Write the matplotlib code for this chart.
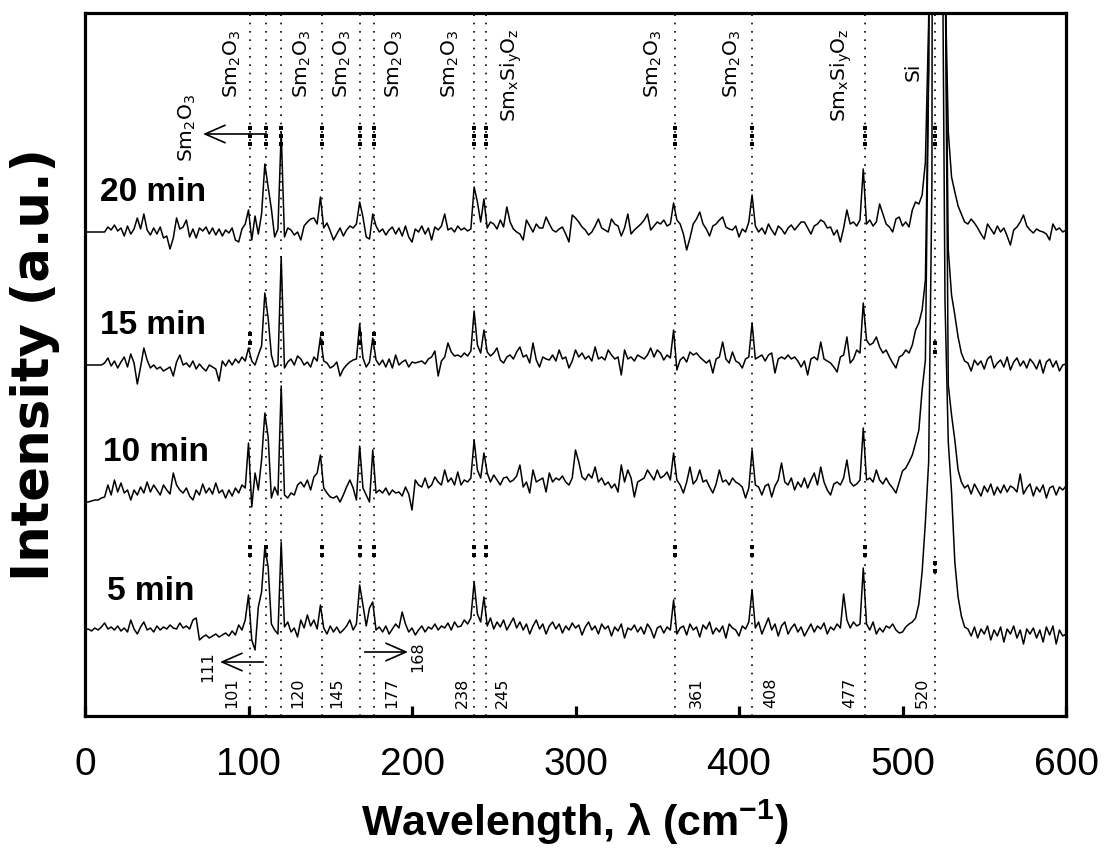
import numpy as np
import matplotlib
matplotlib.use("Agg")
import matplotlib.pyplot as plt

# ---------------- data ----------------
# Raman shift sampling grid (cm^-1)
wavenumber = np.arange(0, 601, 2)

# intensity above each trace's own baseline (a.u.)
intensity_20min = [
    0, 0, 0, 0, 0, 0, 0, 5, 2, 7,
    1, 4, -4, 6, -2, 3, 14, 3, 18, 2,
    -3, 4, -2, 5, -6, -4, -17, -6, 14, 3,
    5, 12, -5, 3, -6, 4, 1, 5, -2, 4,
    -3, 3, -4, 2, -1, 4, -8, -10, 3, 8,
    22, -8, 16, -2, 18, 68, 45, 23, -5, 3,
    100, -5, 4, 2, -3, 0, -8, 6, 10, 13,
    14, 8, 35, 4, 9, 1, -8, -2, 4, -4,
    2, 6, 4, 8, 30, 15, -5, -7, 18, 6,
    0, 3, -3, 2, 5, -2, 4, -4, 6, -5,
    -10, 3, 0, 6, -2, 4, -8, 5, 2, 6,
    18, 2, 4, 0, 6, 2, 4, 1, 3, 45,
    30, 10, 33, 4, 10, 8, 3, 12, 5, 25,
    10, 3, 0, -2, -8, 12, 6, 0, 8, 4,
    4, 15, 8, 2, 0, 3, 5, -2, -10, 17,
    14, 10, 5, 2, -3, 0, 6, 13, 4, 2,
    0, 13, 8, 6, -4, 4, 18, -2, 2, 5,
    8, 12, 18, 2, 6, 10, 8, 12, 6, 8,
    29, 12, 8, -2, -18, -6, 8, 13, 20, 8,
    3, -4, 6, 8, 12, 15, 5, 3, 2, 6,
    -5, 3, 0, 10, 37, 6, 0, 4, -2, 8,
    2, -3, 6, 3, -2, 4, 7, 2, 6, 10,
    10, 4, -2, 6, 8, 12, 10, 4, 5, -3,
    2, -10, 4, 22, 8, 10, 6, 12, 63, 8,
    12, 6, 10, 28, 18, 8, 5, 0, 13, 15,
    6, 10, 5, 22, 30, 28, 37, 70, 210, 800,
    2500, 2500, 800, 260, 100, 55, 40, 26, 18, 10,
    8, 13, 9, 4, -2, -7, 8, 3, -2, 6,
    0, 4, -4, -13, 2, 5, 10, 17, 6, 2,
    -1, 3, 1, 0, -2, -8, 8, 2, 4, 0,
    2]

intensity_15min = [
    0, 0, 0, 0, 0, 0, 2, 7, -1, 4,
    -3, 3, 8, -2, 11, 2, -19, -2, 17, 5,
    -3, 0, -4, -2, -6, -4, -2, -11, 3, 10,
    0, 2, -2, 4, -4, 1, -3, -6, 0, -2,
    -4, -16, 4, -1, 5, 0, 6, 2, 8, 4,
    17, 4, 0, 10, 19, 72, 47, 10, -2, 0,
    108, -3, 3, 6, 0, 9, 6, 0, 3, -2,
    8, 4, 28, 4, 2, -3, -1, 3, -11, -4,
    0, 3, 5, 6, 41, 7, -2, 3, 27, 5,
    0, 5, -2, 6, -3, 10, 0, 3, 5, -2,
    3, 2, 3, 4, 1, 6, 8, 14, -11, 4,
    8, 22, 13, 9, 10, 8, 12, 9, 14, 54,
    20, 12, 35, 13, 9, 12, 17, 5, 2, 8,
    10, 6, 13, 18, 8, 10, 2, 22, 5, -2,
    8, 6, 5, 10, 4, 15, 6, 8, -3, 4,
    15, 8, 12, 6, 9, 4, 18, 6, 8, 5,
    15, 10, 6, 8, -10, 15, 6, 8, 4, 10,
    8, 6, 10, 17, 8, 15, 12, 5, 10, 7,
    35, -5, 5, 8, 3, 13, 10, 12, 8, 5,
    2, 5, -8, 6, 8, 23, 6, 2, 13, 4,
    2, -3, 6, 8, 42, 6, 8, 10, 4, 10,
    12, -8, 6, 8, 6, 10, 6, 8, 4, -2,
    4, -10, 6, 8, 5, 23, 6, 4, 2, -2,
    -7, 8, 10, 28, 2, 6, 15, 12, 62, 25,
    20, 22, 28, 18, 12, 15, 8, 2, -3, 8,
    10, 15, 12, 20, 35, 42, 55, 85, 300, 1200,
    3000, 3000, 1000, 420, 115, 70, 50, 28, 12, 4,
    2, -6, 5, 0, 4, -4, 6, 9, -3, 2,
    5, -2, 8, -5, 3, 7, -1, 4, -3, 6,
    2, -4, 5, -8, 3, 6, -2, 4, -6, 0,
    1]

intensity_10min = [
    -12, -12, -11, -10, -10, -8, -7, 5, -5, 10,
    -2, 7, -3, 0, -10, 0, -5, 3, -3, 8,
    -2, 5, 0, -5, 5, 0, -4, 17, 5, 0,
    -3, 2, -6, -10, 0, -5, 6, -3, 2, -4,
    7, -3, 0, -8, 0, -6, 2, -3, 5, 2,
    47, -17, 17, 0, 30, 77, 53, -8, 3, -5,
    104, -5, -8, -3, -5, 5, 8, 3, 10, 0,
    13, 17, 35, 2, -3, -7, -8, -6, -12, -5,
    3, 10, 2, -10, 44, 2, -5, -12, 40, -3,
    0, -3, 2, -5, 0, -3, -2, -6, 3, -4,
    -20, 10, 5, 3, 12, 2, 5, 13, 8, 5,
    20, 8, 12, 5, 18, 5, 10, 8, 12, 50,
    20, 12, 37, 17, 8, 15, 10, 5, 12, 13,
    8, 10, 14, 25, 3, 8, -3, 20, 8, 10,
    12, -2, 17, 8, 12, 10, 14, 8, 5, 12,
    40, 28, 13, 10, 16, 12, 23, 8, 12, 5,
    8, 2, 6, -2, 25, 8, 20, 12, -7, 8,
    10, 12, 20, 15, 10, 20, 12, 14, 18, 10,
    37, 10, 5, -3, 8, 23, 6, 10, 20, 8,
    10, 3, -3, 6, 20, 8, 10, 5, 12, 8,
    6, 3, -8, 2, 40, 5, 3, -5, 4, 6,
    -7, 4, 10, 27, 8, 5, 12, 0, 8, 3,
    12, 2, 10, 17, 5, 23, 8, 0, -5, 6,
    8, 5, 12, 30, 8, 4, 6, 10, 62, 10,
    12, 8, 20, 10, 6, 12, 6, 2, -3, 8,
    19, 22, 28, 35, 47, 60, 100, 130, 420, 1500,
    3000, 3000, 1200, 560, 105, 75, 50, 20, 8, 2,
    5, -4, 6, 0, -6, 4, -2, 6, -5, 3,
    -3, 5, -2, 4, 2, -2, 16, -4, 2, 6,
    -6, 3, -2, 5, -8, 2, 4, -5, 3, 0,
    4]

intensity_5min = [
    2, 3, 1, 4, 2, 5, 9, 3, 5, 2,
    6, 1, 4, 0, 12, 3, -2, 5, 10, 2,
    4, 0, 6, 2, 5, 3, 7, 4, 3, 9,
    4, 6, 3, 12, 14, -8, -5, -3, -6, -4,
    -2, -5, -3, -1, -4, 1, -3, 7, 2, 12,
    37, -8, -18, 25, 40, 85, 65, 8, 2, -2,
    90, 5, 10, 0, 4, -5, 12, 4, 17, 6,
    12, 3, 27, 4, -2, 6, 0, 5, -1, 2,
    6, 12, 2, 8, 47, 27, 6, 24, 30, 2,
    5, 0, 6, -2, 3, 8, 4, 20, 8, 0,
    4, -3, 2, 6, 0, 5, 3, 8, 2, 6,
    4, 9, 2, 10, 5, 6, 12, 8, 14, 50,
    18, 10, 35, 6, 14, 3, 10, 5, 12, 2,
    8, 14, 4, 10, 2, 8, -2, 6, 12, 3,
    8, -2, 6, 10, 3, 8, -1, 6, 2, 9,
    4, 7, -3, 5, 10, 2, 6, -2, 8, 3,
    6, -4, 5, 1, 8, -6, 4, 2, 7, 0,
    5, -2, 8, 3, -6, 4, 6, -1, 5, 2,
    32, -2, 4, 6, -3, 8, 2, 5, -5, 7,
    3, 10, -2, 4, 0, 6, -6, 8, 4, 2,
    -4, 6, 3, 10, 42, 4, 10, -2, 6, 14,
    2, 8, -4, 6, 10, -2, 4, 8, 0, 5,
    -4, 2, 8, 0, 6, 3, 9, -2, 5, 2,
    8, 4, 38, 12, 4, 10, 6, 8, 64, 8,
    2, 10, -2, 4, 0, 6, 4, 8, 2, -1,
    0, 5, 8, 10, 14, 28, 60, 110, 170, 450,
    3000, 3000, 800, 330, 190, 140, 70, 35, 16, 5,
    3, -4, 5, -6, 3, -2, 6, -8, 2, -4,
    5, -10, 3, -2, 6, -6, 2, -12, 3, -2,
    4, -6, 2, -10, 5, -3, 6, -12, 2, -4,
    -2]

series_labels = ["20 min", "15 min", "10 min", "5 min"]
series_offsets = [484, 351, 226, 84]      # vertical stacking of the traces (a.u.)

# assigned band positions (cm^-1)
band_positions = [101, 111, 120, 145, 168, 177, 238, 245, 361, 408, 477, 520]
band_tick_labels = ["101", "111", "120", "145", "168", "177", "238", "245",
                    "361", "408", "477", "520"]
phase_labels = ["Sm$_\\mathregular{2}$O$_\\mathregular{3}$"] * 5 + \
               ["Sm$_\\mathregular{x}$Si$_\\mathregular{y}$O$_\\mathregular{z}$"] + \
               ["Sm$_\\mathregular{2}$O$_\\mathregular{3}$"] * 2 + \
               ["Sm$_\\mathregular{x}$Si$_\\mathregular{y}$O$_\\mathregular{z}$", "Si"]

x_ticks = [0, 100, 200, 300, 400, 500, 600]

# ---------------- fonts ----------------
HFONT = ["Liberation Sans", "DejaVu Sans"]
FS_TICK, FS_MIN, FS_XLAB = 28, 24, 31
VFONT = ["DejaVu Sans"]

# ---------------- figure ----------------
W, H = 1113, 850
fig = plt.figure(figsize=(W / 100, H / 100), dpi=100)
AX_L, AX_R, AX_T, AX_B = 85, 1066, 13, 716
ax = fig.add_axes([AX_L / W, 1 - AX_B / H, (AX_R - AX_L) / W, (AX_B - AX_T) / H])
ax.set_xlim(0, 600)
ax.set_ylim(0, AX_B - AX_T)


def ypx(p):
    """pixel row in the figure -> y data value"""
    return AX_B - p


def xpx(p):
    return (p - AX_L) / (AX_R - AX_L) * 600


# dotted band markers
for b in band_positions:
    ax.axvline(b, color="k", lw=1.2, linestyle=(0, (1, 4)), zorder=1)

# bolder dot groups near the traces
bold_groups = [
    (band_positions, [128, 136, 144]),
    ([101, 145, 168, 177], [334, 343]),
    ([520], [343, 352]),
    ([101, 111, 145, 168, 177, 238, 245, 361, 408, 477], [547, 555]),
    ([520], [563, 571]),
]
for xs, ys in bold_groups:
    for xb in xs:
        ax.plot([xb] * len(ys), [ypx(v) for v in ys], "s", color="k",
                ms=2.4, mew=0, zorder=2)

# spectra
for vals, off in zip([intensity_20min, intensity_15min, intensity_10min, intensity_5min],
                     series_offsets):
    ax.plot(wavenumber, off + np.asarray(vals, dtype=float), color="k", lw=1.1,
            zorder=3)

# trace labels
min_label_pos = [(100, 192), (100, 325), (103, 452), (107, 592)]
for lab, (px, py) in zip(series_labels, min_label_pos):
    ax.text(xpx(px), ypx(py), lab, fontsize=FS_MIN, fontweight="bold",
            family=HFONT, ha="left", va="center")

# top phase labels (rotated)
top_label_pos = [(232, 64), (302, 64), (342, 64), (394, 64), (450, 64), (511, 75),
                 (653, 64), (732, 64), (841, 75), (913, 72)]
for lab, (px, py) in zip(phase_labels, top_label_pos):
    ax.text(xpx(px), ypx(py), lab, rotation=90, fontsize=14.5, family=VFONT,
            ha="center", va="center")

# left arrow label at top
ax.text(xpx(187), ypx(128), phase_labels[0], rotation=90, fontsize=14.5,
        family=VFONT, ha="center", va="center")
arrow_kw = dict(arrowstyle="->,head_length=0.8,head_width=0.35", lw=1.2,
                color="k", mutation_scale=18, shrinkA=0, shrinkB=0)
ax.annotate("", xy=(xpx(203), ypx(134)), xytext=(111, ypx(134)), arrowprops=arrow_kw)

# bottom band-position labels
bottom_pos = {"101": 232, "120": 298, "145": 337, "177": 392, "238": 462,
              "245": 502, "361": 696, "408": 771, "477": 850, "520": 922}
for lab in band_tick_labels:
    if lab in bottom_pos:
        ax.text(xpx(bottom_pos[lab]), ypx(708), lab, rotation=90, fontsize=11.5,
                family=VFONT, ha="center", va="bottom")
# labels with arrows
ax.text(xpx(208), ypx(667), "111", rotation=90, fontsize=11.5, family=VFONT,
        ha="center", va="center")
ax.annotate("", xy=(xpx(220), ypx(662)), xytext=(109, ypx(662)), arrowprops=arrow_kw)
ax.text(xpx(418), ypx(657), "168", rotation=90, fontsize=11.5, family=VFONT,
        ha="center", va="center")
ax.annotate("", xy=(xpx(408), ypx(652)), xytext=(171, ypx(652)), arrowprops=arrow_kw)

# axes styling
for s in ax.spines.values():
    s.set_linewidth(2.3)
ax.set_yticks([])
ax.set_xticks(x_ticks)
ax.set_xticklabels([str(t) for t in x_ticks])
ax.tick_params(axis="x", direction="in", length=7, width=2.3, pad=22,
               labelsize=FS_TICK)
for lbl in ax.get_xticklabels():
    lbl.set_family(HFONT)

# axis titles
fig.text(575 / W, 1 - 822 / H, "Wavelength, λ (cm$^{\\mathregular{-1}}$)",
         fontsize=FS_XLAB, fontweight="bold", family=HFONT, ha="center", va="center")
fig.text(35 / W, 1 - 365 / H, "Intensity (a.u.)", rotation=90, fontsize=37,
         fontweight="bold", family=VFONT, ha="center", va="center")

fig.savefig("out.png", dpi=100)
